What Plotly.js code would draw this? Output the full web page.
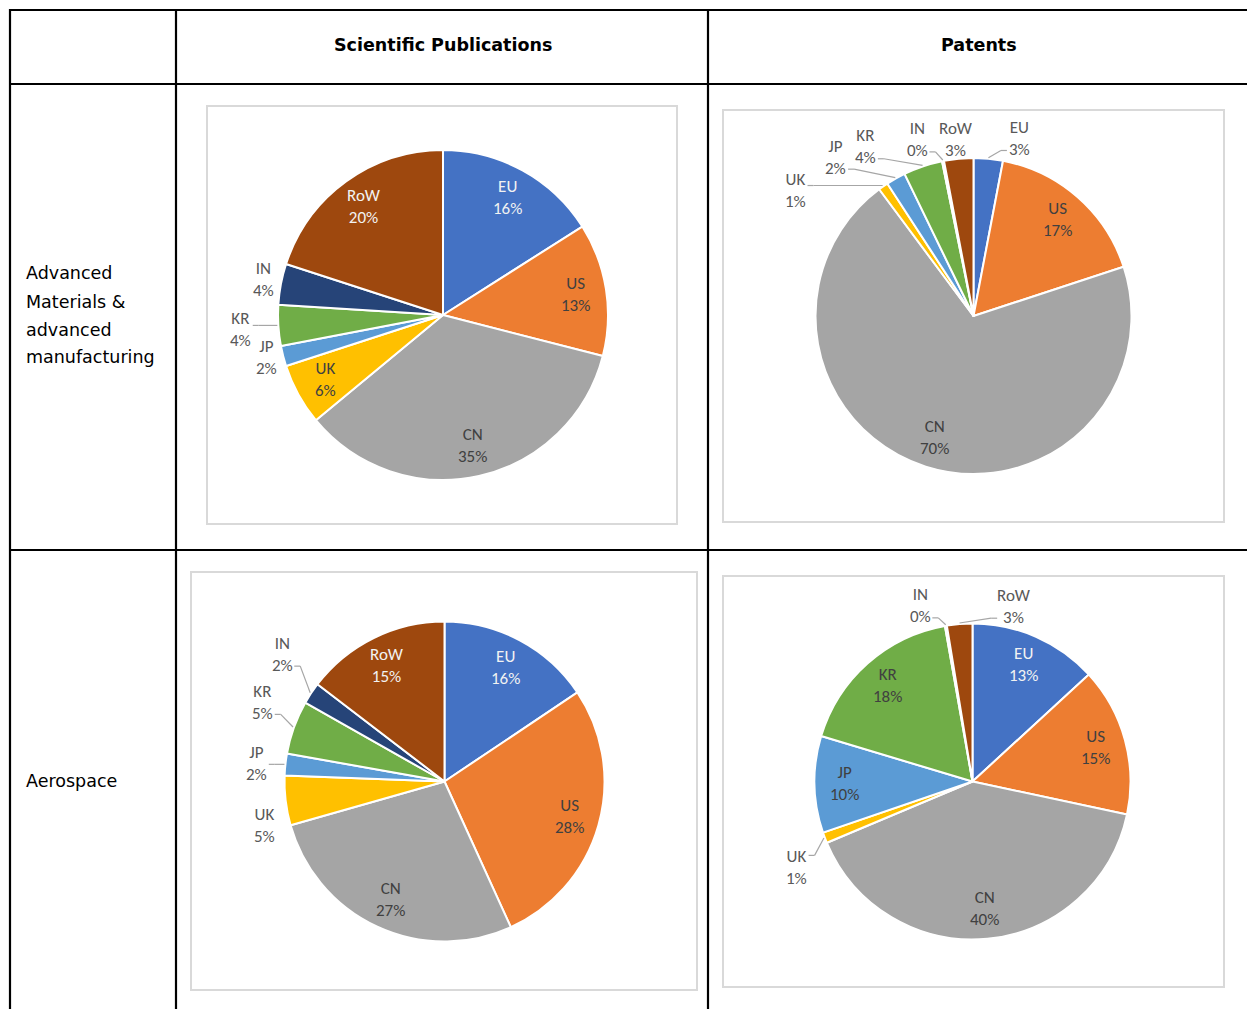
<!DOCTYPE html>
<html>
<head>
<meta charset="utf-8">
<script src="https://cdn.plot.ly/plotly-3.0.1.min.js"></script>
<style>
html,body{margin:0;padding:0;background:#ffffff;}
#chart{width:1247px;height:1009px;}
</style>
</head>
<body>
<div id="chart"></div>
<script>
// ---------------- DATA ----------------
const regions = ['EU', 'US', 'CN', 'UK', 'JP', 'KR', 'IN', 'RoW'];
const pubAdvMaterials = [16, 13, 35, 6, 2, 4, 4, 20];
const patAdvMaterials = [3, 17, 70, 1, 2, 4, 0.2, 3];
const pubAerospace = [15.6, 27.6, 27.4, 5, 2.2, 5.4, 2.2, 14.6];
const patAerospace = [13.2, 15.2, 40.4, 1.1, 9.9, 17.6, 0.2, 2.6];
const columnHeaders = ['Scientific Publications', 'Patents'];
const rowHeaders = [['Advanced', 'Materials &', 'advanced', 'manufacturing'], ['Aerospace']];

// ---------------- STYLE / LAYOUT ----------------
const W = 1247, H = 1009;
const sliceColors = ['#4472C4', '#ED7D31', '#A5A5A5', '#FFC000', '#5B9BD5', '#70AD47', '#264478', '#9E480E'];
const labelFamily = 'Carlito, Calibri, Lato, sans-serif';
const labelSize = 17;
const outsideColor = '#595959';
const insideColor = '#404040';
const insideLightColor = '#F2F2F2';
const leaderColor = '#A6A6A6';
const X = px => px / W;
const Y = py => 1 - py / H;

// pie geometry (pixels) and placement of labels that sit outside the pie
const pies = [
  {values: pubAdvMaterials, cx: 443, cy: 315, r: 165, box: [207, 106, 677, 524],
   outside: {IN: {a: 281.3, k: 1.11, leader: false}, KR: {a: 266, k: 1.23, leader: true}, JP: {a: 256.6, k: 1.10, leader: false}}},
  {values: patAdvMaterials, cx: 973.5, cy: 316, r: 158, box: [723, 110, 1224, 522],
   outside: {EU: {a: 14.4, k: 1.16, leader: true}, UK: {a: 305.2, k: 1.38, leader: true}, JP: {a: 319.1, k: 1.33, leader: true},
             KR: {a: 327.5, k: 1.27, leader: true}, IN: {a: 342.3, k: 1.17, leader: true}, RoW: {a: 354.3, k: 1.12, leader: false}}},
  {values: pubAerospace, cx: 444.5, cy: 781.5, r: 160, box: [191, 572, 697, 990],
   outside: {UK: {a: 256.4, k: 1.16, leader: false}, JP: {a: 275.6, k: 1.18, leader: true}, KR: {a: 293.5, k: 1.24, leader: true}, IN: {a: 308.1, k: 1.29, leader: true}}},
  {values: patAerospace, cx: 972.5, cy: 781.5, r: 158, box: [723, 576, 1224, 987],
   outside: {UK: {a: 244, k: 1.24, leader: true}, IN: {a: 343.4, k: 1.16, leader: true}, RoW: {a: 13.3, k: 1.14, leader: true}}}
];

const traces = [];
const annotations = [];
const shapes = [];

function polar(p, angDeg, rad) {
  const t = angDeg * Math.PI / 180;
  return [p.cx + rad * Math.sin(t), p.cy - rad * Math.cos(t)];
}
function seg(x0, y0, x1, y1, color, width, layer) {
  shapes.push({type: 'line', xref: 'paper', yref: 'paper', x0: X(x0), y0: Y(y0), x1: X(x1), y1: Y(y1),
               line: {color: color, width: width}, layer: layer || 'above'});
}
function isDark(hex) {
  const r = parseInt(hex.substr(1, 2), 16), g = parseInt(hex.substr(3, 2), 16), b = parseInt(hex.substr(5, 2), 16);
  return (0.299 * r + 0.587 * g + 0.114 * b) < 110;
}

// chart boxes
pies.forEach(p => {
  shapes.push({type: 'rect', xref: 'paper', yref: 'paper', x0: X(p.box[0]), x1: X(p.box[2]), y0: Y(p.box[3]), y1: Y(p.box[1]),
               line: {color: '#D9D9D9', width: 2}, fillcolor: 'rgba(0,0,0,0)', layer: 'below'});
});

pies.forEach(p => {
  traces.push({
    type: 'pie', values: p.values, labels: regions, sort: false, direction: 'clockwise', rotation: 0,
    marker: {colors: sliceColors, line: {color: '#ffffff', width: 2}},
    textinfo: 'none', hoverinfo: 'none', showlegend: false,
    domain: {x: [X(p.cx - p.r), X(p.cx + p.r)], y: [Y(p.cy + p.r), Y(p.cy - p.r)]}
  });
  const total = p.values.reduce((s, v) => s + v, 0);
  let cum = 0;
  p.values.forEach((v, i) => {
    const mid = (cum + v / 2) / total * 360;
    cum += v;
    const name = regions[i];
    const pct = Math.round(v / total * 100) + '%';
    const text = name + '<br>' + pct;
    const out = p.outside[name];
    let pos, color;
    if (out) { pos = polar(p, out.a, out.k * p.r); color = outsideColor; }
    else { pos = polar(p, mid, 0.81 * p.r); color = isDark(sliceColors[i]) ? insideLightColor : insideColor; }
    annotations.push({xref: 'paper', yref: 'paper', x: X(pos[0]), y: Y(pos[1]), text: text, showarrow: false,
                      xanchor: 'center', yanchor: 'middle', align: 'center',
                      font: {family: labelFamily, size: labelSize, color: color}});
    if (out && out.leader) {
      const edge = polar(p, mid, p.r + 1);
      const halfW = Math.max(name.length, pct.length) * 0.27 * labelSize + 3;
      const side = edge[0] < pos[0] ? -1 : 1;
      const ax = pos[0] + side * halfW;
      const ay = Math.min(Math.max(edge[1], pos[1] - 12), pos[1] + 12);
      const bx = ax + side * 6;
      seg(ax, ay, bx, ay, leaderColor, 1.2);
      seg(bx, ay, edge[0], edge[1], leaderColor, 1.2);
    }
  });
});

// table grid
const tableLeft = 10, tableTop = 10, headerBottom = 84, rowDivider = 550, col1 = 176, col2 = 708;
[tableTop, headerBottom, rowDivider].forEach(y => seg(tableLeft - 1, y, W, y, '#000000', 2.2));
[tableLeft, col1, col2].forEach(x => seg(x, tableTop - 1, x, H, '#000000', 2.2));

// column headers
const headerFont = {family: '"DejaVu Sans", sans-serif', size: 17.5, color: '#000000'};
[(col1 + col2) / 2, (col2 + W) / 2].forEach((x, i) => {
  annotations.push({xref: 'paper', yref: 'paper', x: X(x + 1), y: Y(45), text: '<b>' + columnHeaders[i] + '</b>',
                    showarrow: false, xanchor: 'center', yanchor: 'middle', font: headerFont});
});

// row headers
const rowFont = {family: '"DejaVu Sans", sans-serif', size: 17.5, color: '#000000'};
const rowCenters = [(headerBottom + rowDivider) / 2 - 1.5, 781];
rowHeaders.forEach((lines, ri) => {
  const lh = 28;
  const start = rowCenters[ri] - (lines.length - 1) * lh / 2;
  lines.forEach((ln, li) => {
    annotations.push({xref: 'paper', yref: 'paper', x: X(24), y: Y(start + li * lh), text: ln, showarrow: false,
                      xanchor: 'left', yanchor: 'middle', font: rowFont});
  });
});

const layout = {
  width: W, height: H, margin: {l: 0, r: 0, t: 0, b: 0, pad: 0},
  paper_bgcolor: '#ffffff', plot_bgcolor: '#ffffff', showlegend: false,
  shapes: shapes, annotations: annotations
};
Plotly.newPlot('chart', traces, layout, {displayModeBar: false, staticPlot: true});
</script>
</body>
</html>
